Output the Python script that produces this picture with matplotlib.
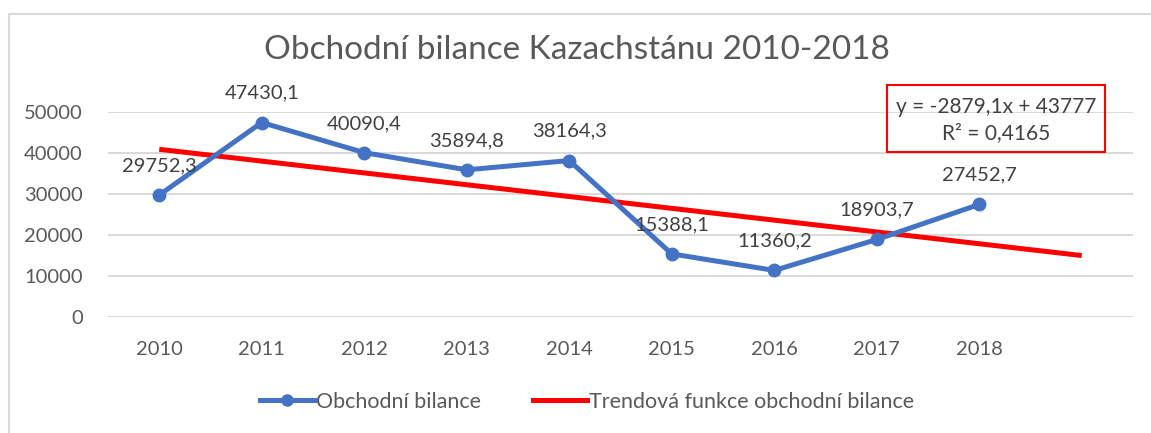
import matplotlib
matplotlib.use("Agg")
import matplotlib.pyplot as plt
import numpy as np
from matplotlib.lines import Line2D
from matplotlib.patches import Rectangle

plt.rcParams['font.family'] = ['Lato', 'DejaVu Sans']

years = ["2010", "2011", "2012", "2013", "2014", "2015", "2016", "2017", "2018"]
balance = [29752.3, 47430.1, 40090.4, 35894.8, 38164.3, 15388.1, 11360.2, 18903.7, 27452.7]
balance_labels = ["29752,3", "47430,1", "40090,4", "35894,8", "38164,3", "15388,1", "11360,2", "18903,7", "27452,7"]
trend_slope = -2879.1
trend_intercept = 43777
trend_periods = 10  # 9 years + 1 forecast period
y_ticks = [0, 10000, 20000, 30000, 40000, 50000]

title = "Obchodní bilance Kazachstánu 2010-2018"
series_name = "Obchodní bilance"
trend_name = "Trendová funkce obchodní bilance"
eq_text = "y = -2879,1x + 43777\nR² = 0,4165"

BLUE = "#4472C4"
RED = "#FF0000"
GRID = "#D9D9D9"
TXT = "#595959"
LBL = "#404040"

W, H = 1151, 433
fig = plt.figure(figsize=(W / 100, H / 100), dpi=100)
fig.patch.set_facecolor("white")

left, right, top, bottom = 108, 1133, 112, 317
ax = fig.add_axes([left / W, 1 - bottom / H, (right - left) / W, (bottom - top) / H])

x = np.arange(len(years))
tx = np.arange(trend_periods)
trend = trend_slope * (tx + 1) + trend_intercept

for yt in y_ticks:
    ax.axhline(yt, color=GRID, lw=1.4, zorder=0)

ax.plot(tx, trend, color=RED, lw=3.6, solid_capstyle='butt', zorder=2)
ax.plot(x, balance, color=BLUE, lw=3.6, marker='o', markersize=9, zorder=3)

for xi, yi, lab in zip(x, balance, balance_labels):
    ax.annotate(lab, (xi, yi), xytext=(0, 21), textcoords='offset points',
                ha='center', va='center', fontsize=14.5, color=LBL)

ax.set_xlim(-0.5, trend_periods - 0.5)
ax.set_ylim(0, 50000)
ax.set_xticks(x)
ax.set_xticklabels(years)
ax.set_yticks(y_ticks)
ax.set_yticklabels([str(v) for v in y_ticks])
ax.tick_params(axis='both', length=0, labelsize=14.5, labelcolor=TXT)
ax.tick_params(axis='x', pad=17)
ax.tick_params(axis='y', pad=18)
for s in ax.spines.values():
    s.set_visible(False)

# Trend equation box
fig.patches.append(Rectangle((887 / W, 1 - 152 / H), (1105 - 887) / W, (152 - 85) / H,
                             transform=fig.transFigure, fill=False, edgecolor=RED, lw=1.5))
fig.text(996 / W, 1 - 120 / H, eq_text, ha='center', va='center', fontsize=15,
         color=LBL, linespacing=1.35)

fig.text(577 / W, 1 - 50 / H, title, ha='center', va='center', fontsize=24, color=TXT)

# Chart border (top and left visible)
fig.add_artist(Line2D([8.5 / W, 8.5 / W], [0, 1 - 13.5 / H], transform=fig.transFigure, color=GRID, lw=1.5))
fig.add_artist(Line2D([8.5 / W, 1], [1 - 13.5 / H, 1 - 13.5 / H], transform=fig.transFigure, color=GRID, lw=1.5))

handles = [Line2D([], [], color=BLUE, lw=3.6, marker='o', markersize=8),
           Line2D([], [], color=RED, lw=3.6)]
leg = fig.legend(handles, [series_name, trend_name], loc='center', ncol=2,
                 bbox_to_anchor=(587 / W, 1 - 402 / H), frameon=False, fontsize=15.5,
                 handlelength=2.5, handletextpad=0.1, columnspacing=2.4,
                 borderpad=0, borderaxespad=0)
for t in leg.get_texts():
    t.set_color(TXT)

fig.savefig("out.png", dpi=100, facecolor="white")
